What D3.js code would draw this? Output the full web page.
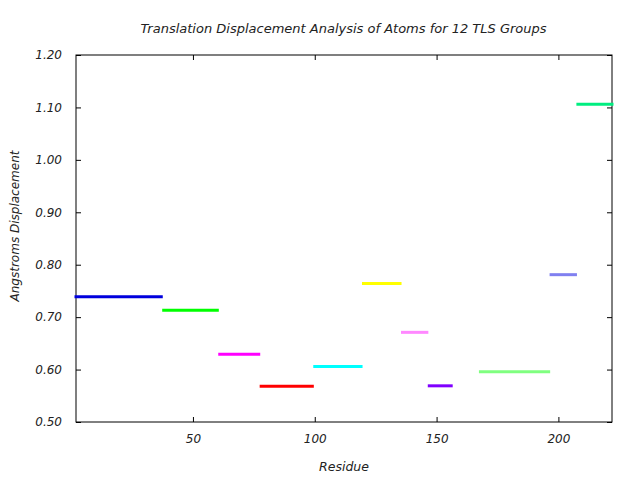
<!DOCTYPE html>
<html>
<head>
<meta charset="utf-8">
<script src="https://cdn.jsdelivr.net/npm/d3@7"></script>
<style>
  body { margin: 0; background: #fff; }
  svg text { font-family: "DejaVu Sans", sans-serif; font-style: italic; fill: #222; }
</style>
</head>
<body>
<svg id="chart" width="640" height="480"></svg>
<script>
// TLS groups: residue ranges and mean translation displacement
const groupStart = [2, 38, 61, 78, 100, 120, 136, 147, 168, 197, 208];
const groupEnd   = [37, 60, 77, 99, 119, 135, 146, 156, 196, 207, 222];
const displacement = [0.739, 0.713, 0.629, 0.568, 0.606, 0.764, 0.671, 0.569, 0.596, 0.781, 1.106];
const groupColors = ["#0000dd", "#00ff00", "#ff00ff", "#ff0000", "#00ffff", "#ffff00",
                     "#ff88ff", "#8000ff", "#80ff80", "#8080f0", "#00ee80"];
const xTicks = [50, 100, 150, 200];
const yTicks = [0.5, 0.6, 0.7, 0.8, 0.9, 1.0, 1.1, 1.2];

const svg = d3.select("#chart");
const mL = 76, mR = 612, mT = 55, mB = 422;

const x = d3.scaleLinear().domain([2, 222]).range([mL, mR]);
const y = d3.scaleLinear().domain([0.5, 1.2]).range([mB, mT]);

// axes (ticks inward, mirrored)
const axB = svg.append("g").attr("transform", `translate(0,${mB})`)
  .call(d3.axisBottom(x).tickValues(xTicks).tickSize(-5).tickPadding(12).tickFormat(d3.format("d")));
const axT = svg.append("g").attr("transform", `translate(0,${mT})`)
  .call(d3.axisTop(x).tickValues(xTicks).tickSize(-5).tickFormat(""));
const axL = svg.append("g").attr("transform", `translate(${mL},0)`)
  .call(d3.axisLeft(y).tickValues(yTicks).tickSize(-5).tickPadding(14).tickFormat(d3.format(".2f")));
const axR = svg.append("g").attr("transform", `translate(${mR},0)`)
  .call(d3.axisRight(y).tickValues(yTicks).tickSize(-5).tickFormat(""));

[axB, axT, axL, axR].forEach(a => {
  a.select(".domain").remove();
  a.selectAll(".tick line").attr("stroke", "#000");
  a.selectAll("text").attr("font-size", 12).attr("fill", "#222")
    .attr("font-family", "DejaVu Sans").attr("font-style", "italic");
});

svg.append("rect").attr("x", mL).attr("y", mT)
  .attr("width", mR - mL).attr("height", mB - mT)
  .attr("fill", "none").attr("stroke", "#000").attr("stroke-width", 1);

// segments
svg.append("g").selectAll("line")
  .data(displacement)
  .join("line")
  .attr("x1", (d, i) => x(groupStart[i]))
  .attr("x2", (d, i) => x(groupEnd[i]))
  .attr("y1", d => y(d))
  .attr("y2", d => y(d))
  .attr("stroke", (d, i) => groupColors[i])
  .attr("stroke-width", 3)
  .attr("stroke-linecap", "square");

// title and labels
svg.append("text").attr("x", (mL + mR) / 2 - 0.5).attr("y", 33)
  .attr("text-anchor", "middle").attr("font-size", 13)
  .text("Translation Displacement Analysis of Atoms for 12 TLS Groups");
svg.append("text").attr("x", (mL + mR) / 2).attr("y", 471)
  .attr("text-anchor", "middle").attr("font-size", 12.5)
  .text("Residue");
svg.append("text").attr("transform", `translate(19,226) rotate(-90)`)
  .attr("text-anchor", "middle").attr("font-size", 12)
  .text("Angstroms Displacement");
</script>
</body>
</html>
